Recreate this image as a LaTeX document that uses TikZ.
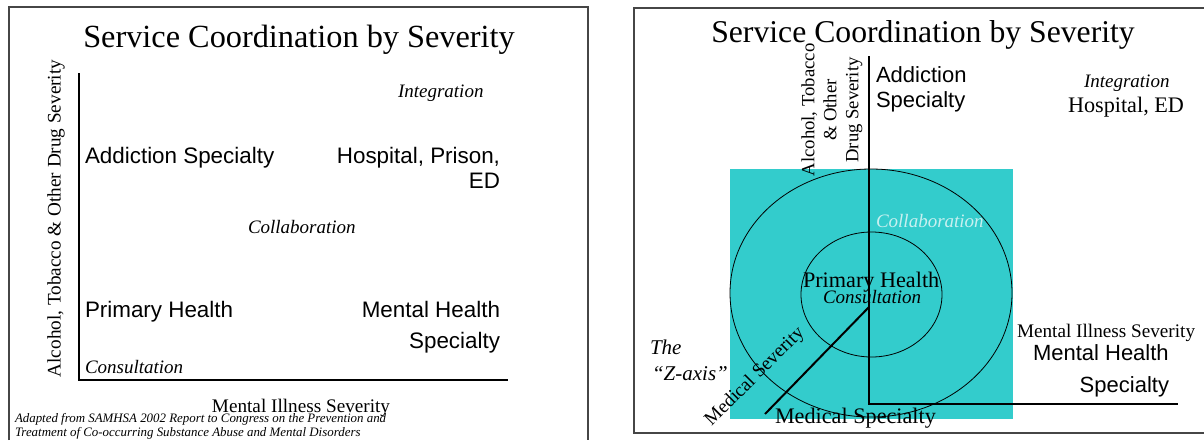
\documentclass[tikz,border=0pt]{standalone}
\usepackage{fontspec}
\setmainfont{Liberation Serif}
\newfontfamily\arialf{Liberation Sans}
\definecolor{tealbox}{RGB}{51,204,204}
\definecolor{collab}{RGB}{200,240,240}
\definecolor{framec}{RGB}{70,70,70}
\newcommand\fsz[2]{\fontsize{#1}{#2}\selectfont}
\begin{document}
\begin{tikzpicture}[x=1pt,y=-1pt,
  txt/.style={inner sep=0pt, outer sep=0pt},
  ttl/.style={txt, font=\fsz{32.3}{36}},
  serifl/.style={txt, font=\fsz{19.2}{22}},
  serifm/.style={txt, font=\fsz{22.2}{25}},
  ital/.style={txt, font=\fsz{19}{22}\itshape},
  sansm/.style={txt, font=\arialf\fsz{22.4}{26}},
  foot/.style={txt, font=\fsz{12.9}{14}\itshape},
  axis/.style={line width=2pt, black},
  frame/.style={line width=1.5pt, framec},
  ring/.style={line width=0.8pt, black}]
\useasboundingbox (0,0) rectangle (1204,440);
% ---------- left panel ----------
\draw[frame] (9,440) -- (9,7) -- (588,7) -- (588,440);
\node[ttl, anchor=base] (t1) at (299,47) {Service Coordination by Severity};
\coordinate (ytop1) at (79,73);
\coordinate (orig1) at (79,380);
\coordinate (xend1) at (508,380);
\draw[axis] (ytop1) -- (orig1) -- (xend1);
\node[serifl, rotate=90] (yl1) at (56,218.5) {Alcohol, Tobacco \& Other Drug Severity};
\node[ital, anchor=base west] (int1) at (398,97) {Integration};
\node[sansm, anchor=base west] (add1) at (85,163) {Addiction Specialty};
\node[sansm, anchor=base east] (hos1) at (500,163) {Hospital, Prison,};
\node[sansm, anchor=base east] (ed1) at (500,188) {ED};
\node[ital, anchor=base west] (col1) at (248,233) {Collaboration};
\node[sansm, anchor=base west] (pri1) at (85,317) {Primary Health};
\node[sansm, anchor=base east] (mh1) at (500,317) {Mental Health};
\node[sansm, anchor=base east] (sp1) at (500,348) {Specialty};
\node[ital, anchor=base west] (con1) at (85,373) {Consultation};
\node[serifl, anchor=base] (mis1) at (301,412) {Mental Illness Severity};
\node[foot, anchor=base west] (fa) at (15,422) {Adapted from SAMHSA 2002 Report to Congress on the Prevention and};
\node[foot, anchor=base west] (fb) at (15,436.5) {Treatment of Co-occurring Substance Abuse and Mental Disorders};
% ---------- right panel ----------
\draw[frame] (1204,433) -- (634,433) -- (634,8) -- (1204,8);
\fill[tealbox] (730,169) rectangle (1013,419);
\draw[ring] (871,293) ellipse [x radius=141, y radius=124];
\draw[ring] (871.5,294.5) ellipse [x radius=70.5, y radius=62.5];
\node[ttl, anchor=base, font=\fsz{31.7}{36}] (t2) at (923,42) {Service Coordination by Severity};
\node[txt, rotate=90, align=center, font=\fsz{18.7}{22}] (yl2) at (832,110) {Alcohol, Tobacco\\ \& Other\\ Drug Severity};
\node[sansm, font=\arialf\fsz{22}{25}, anchor=base west] (add2) at (876,82) {Addiction};
\node[sansm, font=\arialf\fsz{22}{25}, anchor=base west] (spa2) at (876,107) {Specialty};
\node[ital, anchor=base west] (int2) at (1084,87) {Integration};
\node[serifm, anchor=base west] (hos2) at (1068,112) {Hospital, ED};
\node[ital, text=collab, anchor=base west] (col2) at (876,227) {Collaboration};
\node[serifm, anchor=base west] (pri2) at (803,287) {Primary Health};
\node[ital, anchor=base west] (con2) at (823,303) {Consultation};
\node[serifl, rotate=45] (msev) at (755,377) {Medical Severity};
\node[serifm, anchor=base west] (mspec) at (775,423) {Medical Specialty};
\node[txt, font=\fsz{21}{24}\itshape, anchor=base west] (the) at (650,354) {The};
\node[txt, font=\fsz{21}{24}\itshape, anchor=base west] (zax) at (652,380) {“Z-axis”};
\node[serifl, anchor=base west] (mis2) at (1017,337) {Mental Illness Severity};
\node[sansm, font=\arialf\fsz{22}{25}, anchor=base west] (mh2) at (1033,360) {Mental Health};
\node[sansm, font=\arialf\fsz{22}{25}, anchor=base east] (sp2) at (1169,392) {Specialty};
\coordinate (ytop2) at (869,56);
\coordinate (orig2) at (869,404);
\coordinate (xend2) at (1178,404);
\coordinate (zst) at (869,307);
\coordinate (zend) at (765,414);
\draw[axis] (ytop2) -- (orig2) -- (xend2);
\draw[axis] (zst) -- (zend);
\end{tikzpicture}
\end{document}
